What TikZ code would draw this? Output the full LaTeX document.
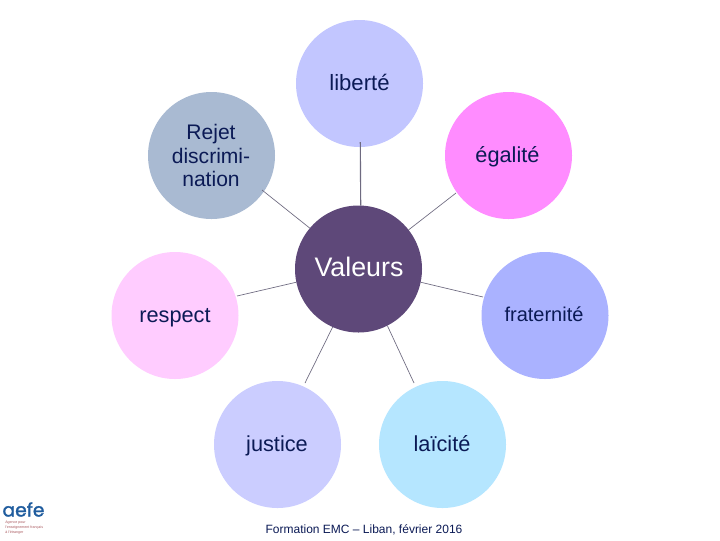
\documentclass[tikz,border=0pt]{standalone}
\usepackage{fontspec}
\setmainfont{Liberation Sans}
\newfontfamily\logofont[FakeBold=1.5]{Poppins}
\definecolor{ink}{HTML}{0B1A55}
\definecolor{cLib}{HTML}{C2C6FF}
\definecolor{cRej}{HTML}{A9BAD2}
\definecolor{cEga}{HTML}{FF8CFF}
\definecolor{cVal}{HTML}{5E4879}
\definecolor{cRes}{HTML}{FFCCFF}
\definecolor{cFra}{HTML}{AAB2FF}
\definecolor{cJus}{HTML}{CBCDFF}
\definecolor{cLai}{HTML}{B5E6FF}
\definecolor{cLine}{HTML}{6E6A80}
\definecolor{cLogo}{HTML}{1F5C9E}
\definecolor{cLogoR}{HTML}{A8565C}
\tikzset{
  disc/.style={circle,minimum size=95.25pt,inner sep=0pt,outer sep=0pt},
  link/.style={draw=cLine,line width=0.5pt},
  label/.style={text=ink,inner sep=0pt,anchor=base,font=\fontsize{16.3}{18}\selectfont},
  caption/.style={text=ink,anchor=base,font=\fontsize{9}{11}\selectfont,inner sep=0pt},
}
\begin{document}
\begin{tikzpicture}[x=0.75pt,y=-0.75pt]
\useasboundingbox (0,0) rectangle (720,540);
\fill[white] (0,0) rectangle (720,540);
\node[disc,fill=cLib] (lib) at (359.5,83.5) {};
\node[disc,fill=cRej] (rej) at (211.5,155.5) {};
\node[disc,fill=cEga] (ega) at (508.5,155.5) {};
\node[disc,fill=cRes] (res) at (175,315.5) {};
\node[disc,fill=cFra] (fra) at (545,315.5) {};
\node[disc,fill=cJus] (jus) at (277.5,444.5) {};
\node[disc,fill=cLai] (lai) at (442.5,444.5) {};
\node[disc,fill=cVal] (val) at (358.5,269) {};
\coordinate (eLib) at (360.3,142);
\coordinate (eRej) at (262,190);
\coordinate (eEga) at (456,193);
\coordinate (eRes) at (237,296);
\coordinate (eFra) at (483,297);
\coordinate (eJus) at (305,383);
\coordinate (eLai) at (414,383);
\draw[link,line width=0.85pt] (eLib) -- (val.88.4);
\draw[link] (eRej) -- (val.140);
\draw[link] (eEga) -- (val.38.5);
\draw[link] (eRes) -- (val.192.8);
\draw[link] (eFra) -- (val.-12.4);
\draw[link] (eJus) -- (val.-114.6);
\draw[link] (eLai) -- (val.-63);
\node[label,font=\fontsize{16.6}{18}\selectfont] (tLib) at (359.5,90) {liberté};
\node[text=ink,inner sep=0pt,align=center,font=\fontsize{15.8}{17.7}\selectfont] (tRej) at (211,155.5) {Rejet\\discrimi-\\nation};
\node[label] (tEga) at (507.5,162.5) {égalité};
\node[label,text=white,font=\fontsize{20.1}{22}\selectfont] (tVal) at (359,276) {Valeurs};
\node[label] (tRes) at (175,322.5) {respect};
\node[label,font=\fontsize{15}{18}\selectfont] (tFra) at (544,321.5) {fraternité};
\node[label] (tJus) at (277,451.5) {justice};
\node[label] (tLai) at (442,451.5) {laïcité};
\node[caption] (cap) at (364,533) {Formation EMC – Liban, février 2016};
\node[text=cLogo,inner sep=0pt,anchor=base,font=\logofont\fontsize{14}{14}\selectfont] (logo) at (23.5,516.5) {aefe};
\node[text=cLogoR,inner sep=0pt,align=left,anchor=north west,font=\fontsize{2.7}{3.6}\selectfont] (logosub) at (5,521) {Agence pour\\l’enseignement français\\à l’étranger};
\end{tikzpicture}
\end{document}
